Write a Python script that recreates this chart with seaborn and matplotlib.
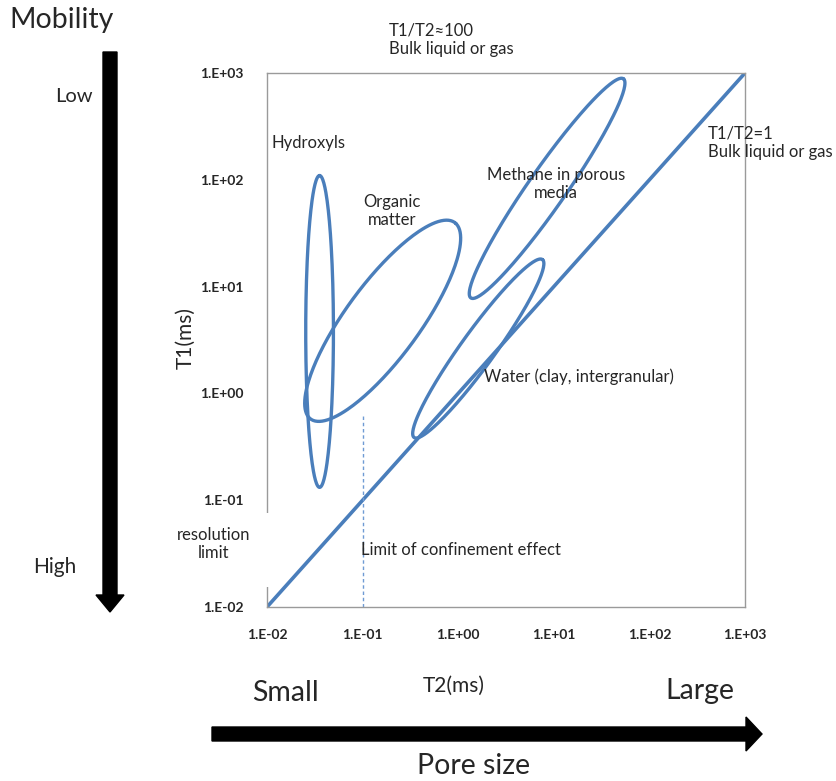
import numpy as np
import pandas as pd
import matplotlib
matplotlib.use("Agg")
import matplotlib.pyplot as plt
import seaborn as sns
from matplotlib.patches import FancyArrow, Rectangle

# axis ticks, excel style labels
tick_values = [1e-2, 1e-1, 1e0, 1e1, 1e2, 1e3]
tick_labels = ["1.E-02", "1.E-01", "1.E+00", "1.E+01", "1.E+02", "1.E+03"]

# T1/T2 = 1 line
bulk_t2 = [1e-2, 1e3]
bulk_t1 = [1e-2, 1e3]

# confinement limit (dashed)
confine_t2 = [0.1, 0.1]
confine_t1 = [0.01, 0.63]

# regions, drawn as ellipses in log10 space
region_names = ["Hydroxyls", "Organic matter", "Methane", "Water"]
centre_log_t2 = [-1.45, -0.79, 0.93, 0.21]
centre_log_t1 = [0.58, 0.68, 1.92, 0.42]
half_major = [1.46, 1.19, 1.30, 1.07]
half_minor = [0.145, 0.37, 0.19, 0.17]
tilt_deg = [90, 50, 52, 51]

BLUE = "#4A7EBB"
TEXT = "#262626"


def region_outline(i, n=240):
    """Outline of one region as T2/T1 points (ellipse in log space)."""
    t = np.linspace(0, 2 * np.pi, n)
    ang = np.deg2rad(tilt_deg[i])
    u = half_major[i] * np.cos(t)
    v = half_minor[i] * np.sin(t)
    lx = centre_log_t2[i] + u * np.cos(ang) - v * np.sin(ang)
    ly = centre_log_t1[i] + u * np.sin(ang) + v * np.cos(ang)
    return pd.DataFrame({"region": region_names[i], "T2": 10 ** lx, "T1": 10 ** ly})


regions = pd.concat([region_outline(i) for i in range(len(region_names))], ignore_index=True)

sns.set_style("white")
plt.rcParams["font.family"] = ["Lato", "DejaVu Sans"]
plt.rcParams["text.color"] = TEXT

W, H = 837, 781
fig = plt.figure(figsize=(W / 100, H / 100), dpi=100)
ax = fig.add_axes([267 / W, 1 - 607 / H, (745 - 267) / W, (607 - 73) / H])
ax.set(xscale="log", yscale="log", xlim=(1e-2, 1e3), ylim=(1e-2, 1e3))

sns.lineplot(data=regions, x="T2", y="T1", units="region", estimator=None,
             sort=False, color=BLUE, lw=2.4, ax=ax)
sns.lineplot(x=bulk_t2, y=bulk_t1, color=BLUE, lw=2.6, ax=ax)
ax.plot(confine_t2, confine_t1, color="#6f9bd4", lw=1.0, ls=(0, (2.5, 2)))

ax.set_xticks(tick_values)
ax.set_xticklabels(tick_labels, fontsize=10, fontweight="bold")
ax.set_yticks(tick_values)
ax.set_yticklabels(tick_labels, fontsize=10, fontweight="bold")
ax.minorticks_off()
ax.tick_params(axis="both", length=5, width=1, color="#9a9a9a", direction="out")
ax.tick_params(axis="x", pad=11)
ax.tick_params(axis="y", pad=12)
ax.set_xlabel("")
ax.set_ylabel("")
for s in ax.spines.values():
    s.set_color("#9a9a9a")
    s.set_linewidth(1)

# overlay in pixel coordinates for the labels and arrows
ov = fig.add_axes([0, 0, 1, 1], facecolor="none")
ov.set_xlim(0, W)
ov.set_ylim(H, 0)
ov.axis("off")

# the text box of "resolution limit" hides a piece of the left axis line
ov.add_patch(Rectangle((165, 513), 104, 74, facecolor="white", edgecolor="none", zorder=0.5))

fs = 12
ls = 1.2
ov.text(389, 40, "T1/T2≈100\nBulk liquid or gas", fontsize=fs, ha="left", va="center", linespacing=ls)
ov.text(272, 143, "Hydroxyls", fontsize=fs, ha="left", va="center")
ov.text(392, 211, "Organic\nmatter", fontsize=fs, ha="center", va="center", linespacing=ls)
ov.text(556, 184, "Methane in porous\nmedia", fontsize=fs, ha="center", va="center", linespacing=ls)
ov.text(708, 143, "T1/T2=1\nBulk liquid or gas", fontsize=fs, ha="left", va="center", linespacing=ls)
ov.text(484, 377, "Water (clay, intergranular)", fontsize=fs, ha="left", va="center")
ov.text(361, 550, "Limit of confinement effect", fontsize=fs, ha="left", va="center")
ov.text(214, 544, "resolution\nlimit", fontsize=fs, ha="center", va="center", linespacing=ls)

ov.text(186, 338, "T1(ms)", fontsize=15, rotation=90, ha="center", va="center")
ov.text(454, 686, "T2(ms)", fontsize=15, ha="center", va="center")

big = 20.5
ov.text(62, 20, "Mobility", fontsize=big, ha="center", va="center")
ov.text(74, 97, "Low", fontsize=14.5, ha="center", va="center")
ov.text(55, 567, "High", fontsize=15, ha="center", va="center")
ov.text(286, 693, "Small", fontsize=big, ha="center", va="center")
ov.text(700, 691, "Large", fontsize=big, ha="center", va="center")
ov.text(474, 766, "Pore size", fontsize=big, ha="center", va="center")

ov.add_patch(FancyArrow(110, 52, 0, 560, width=14, head_width=28, head_length=17,
                        length_includes_head=True, color="black", zorder=1))
ov.add_patch(FancyArrow(212, 734, 550, 0, width=14, head_width=34, head_length=16,
                        length_includes_head=True, color="black", zorder=1))

fig.savefig("out.png", dpi=100)
